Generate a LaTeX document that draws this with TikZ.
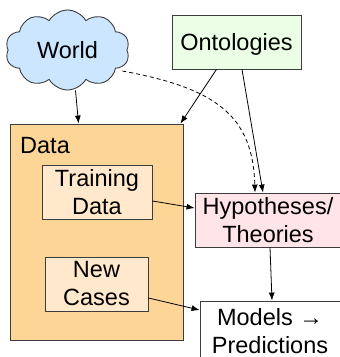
\documentclass[tikz,border=0pt]{standalone}
\usepackage{fontspec}
\setmainfont{Liberation Sans}
\usetikzlibrary{shapes.symbols,arrows.meta,calc}
\definecolor{cloudfill}{RGB}{204,230,255}
\definecolor{ontfill}{RGB}{235,255,230}
\definecolor{datafill}{RGB}{253,213,150}
\definecolor{innerfill}{RGB}{255,232,204}
\definecolor{hypfill}{RGB}{255,228,232}
\definecolor{edgegray}{RGB}{60,60,60}
\tikzset{
  box/.style={draw=edgegray, line width=0.9pt, rectangle, inner sep=0pt, align=center,
    font=\fontsize{23.5pt}{28pt}\selectfont},
  conn/.style={line width=0.8pt, -{Latex[length=8pt,width=6pt]}},
}
\begin{document}
\begin{tikzpicture}[x=1pt,y=-1pt]
\useasboundingbox (0,0) rectangle (340,357);
\clip (0,0) rectangle (340,357);
% nodes
\node[box, cloud, cloud puffs=10, cloud puff arc=120, aspect=1.5, fill=cloudfill,
      minimum width=124pt, minimum height=80pt, text depth=0pt] (world) at (67.5,50) {World};
\node[box, fill=ontfill, minimum width=129pt, minimum height=54pt, text depth=0pt] (ont) at (236.5,42) {Ontologies};
\node[box, fill=datafill, minimum width=173pt, minimum height=216pt] (data) at (96.5,232) {};
\node[font=\fontsize{23.5pt}{28pt}\selectfont, anchor=base west, inner sep=0pt] (datalbl) at (20,153) {Data};
\node[box, fill=innerfill, minimum width=110pt, minimum height=54pt] (train) at (97,192) {Training\\Data};
\node[box, fill=innerfill, minimum width=103pt, minimum height=54pt] (new) at (96.5,284) {New\\Cases};
\node[box, fill=hypfill, minimum width=146pt, minimum height=54pt] (hyp) at (268,220) {Hypotheses/\\Theories};
\node[box, fill=white, minimum width=140pt, minimum height=60pt] (mod) at (270,331) {Models →\\Predictions};
% connectors
\draw[conn] ([xshift=8pt]world.south) -- ([xshift=69pt]data.north west);
\draw[conn] ([xshift=-20pt]ont.south) -- ([xshift=-3pt]data.north east);
\draw[conn] ([xshift=5.5pt]ont.south) -- ([xshift=-5pt]hyp.north);
\draw[conn, dashed, dash pattern=on 4pt off 3pt] ([xshift=-5pt,yshift=-21pt]world.east) .. controls (215,88) and (253,115) .. ([xshift=-13pt]hyp.north);
\draw[conn] ([yshift=-9pt]train.east) -- ([yshift=12pt]hyp.west);
\draw[conn] ([xshift=2pt]hyp.south) -- ([xshift=2pt]mod.north);
\draw[conn] ([yshift=-14pt]new.east) -- ([yshift=21pt]mod.west);
\end{tikzpicture}
\end{document}
